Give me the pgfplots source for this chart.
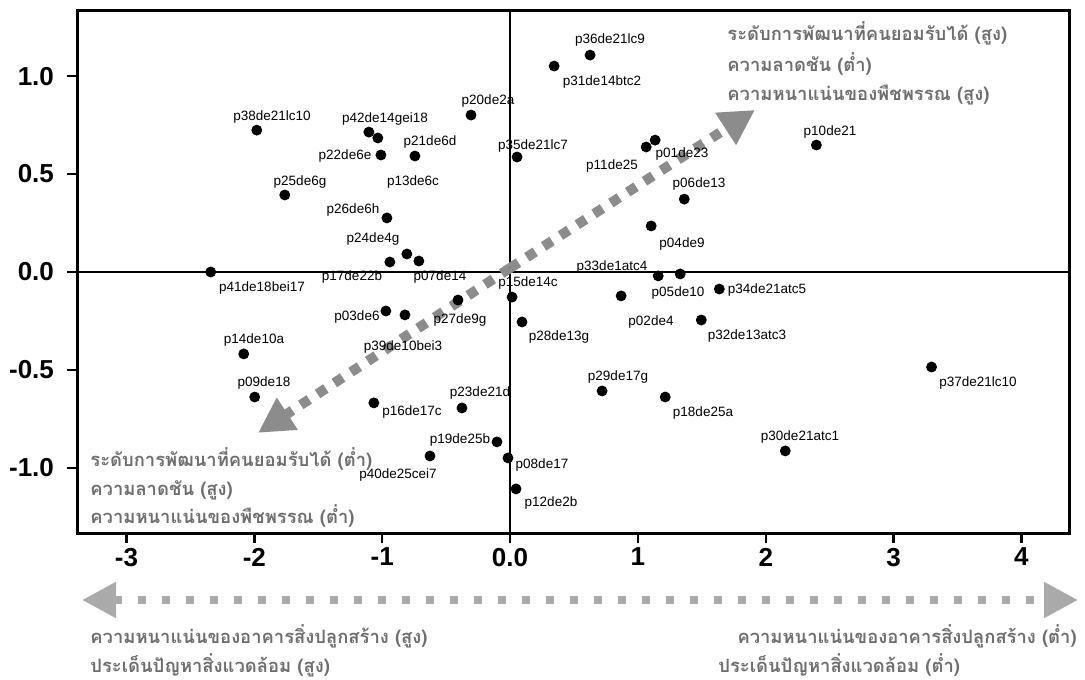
\documentclass[border=0pt]{standalone}
\usepackage{fontspec}
\setmainfont{Liberation Sans}
\newfontfamily\thaifont[Script=Thai]{Loma}
\usepackage{pgfplots}
\pgfplotsset{compat=1.18}
\usetikzlibrary{arrows.meta}
\definecolor{arrgray}{RGB}{140,140,140}
\definecolor{botgray}{RGB}{170,170,170}
\definecolor{thaigray}{RGB}{110,110,110}
\begin{document}
\begin{tikzpicture}
\begin{axis}[
  at={(0,0)}, anchor=south west,
  scale only axis, width=496pt, height=261pt,
  xmin=-3.387, xmax=4.372, ymin=-1.332, ymax=1.332,
  axis line style={line width=1.5pt},
  xtick={-3,-2,-1,0,1,2,3,4},
  xticklabels={-3,-2,-1,0.0,1,2,3,4},
  ytick={-1,-0.5,0,0.5,1},
  yticklabels={-1.0,-0.5,0.0,0.5,1.0},
  tick align=outside, tick pos=left,
  major tick length=5pt,
  every tick/.style={line width=1.2pt, black},
  ticklabel style={font=\fontsize{13}{13}\selectfont\bfseries},
  xticklabel style={yshift=1pt},
  yticklabel style={xshift=-3pt},
  clip=false,
]
\draw[line width=1.25pt] (axis cs:-3.387,0) -- (axis cs:4.372,0);
\draw[line width=1.25pt] (axis cs:0,-1.332) -- (axis cs:0,1.332);
\draw[arrgray, line width=5pt, dash pattern=on 5pt off 5pt, -{Triangle[length=17.5pt,width=18pt]}] (axis cs:0,0.02) -- (axis cs:1.916,0.827);
\draw[arrgray, line width=5pt, dash pattern=on 5pt off 5pt, -{Triangle[length=17.5pt,width=18pt]}] (axis cs:0,0.02) -- (axis cs:-1.971,-0.821);
\addplot[only marks, mark=*, mark size=2.5pt, black] table {
x y
-2.341 0.000
-2.083 -0.418
-1.997 -0.638
-1.981 0.724
-1.762 0.393
-1.104 0.714
-1.034 0.684
-1.010 0.597
-0.744 0.592
-0.963 0.276
-0.940 0.051
-0.807 0.092
-0.713 0.056
-0.305 0.801
0.626 1.107
0.345 1.051
0.055 0.587
1.065 0.638
1.135 0.673
1.363 0.372
1.104 0.235
2.396 0.648
1.159 -0.020
1.331 -0.010
1.637 -0.087
0.869 -0.122
1.496 -0.245
3.297 -0.485
0.720 -0.607
1.214 -0.638
2.153 -0.913
0.016 -0.128
0.094 -0.255
-0.016 -0.949
0.047 -1.107
-0.102 -0.867
-0.626 -0.939
-0.376 -0.694
-1.065 -0.668
-0.407 -0.143
-0.971 -0.199
-0.822 -0.219
};
\end{axis}
\begin{scope}[x=0.5pt, y=-0.5pt, shift={(-38.5pt,266.5pt)},
  lbl/.style={font=\fontsize{6.75}{6.75}\selectfont, inner sep=0pt},
  th/.style={font=\thaifont\bfseries\fontsize{9.2}{9.2}\selectfont, text=thaigray, inner sep=0pt}]
\node[lbl] at (272,117) {p38de21lc10};
\node[lbl] at (385,119) {p42de14gei18};
\node[lbl] at (345,156) {p22de6e};
\node[lbl] at (430,142) {p21de6d};
\node[lbl] at (300,182) {p25de6g};
\node[lbl] at (413,182) {p13de6c};
\node[lbl] at (353,210) {p26de6h};
\node[lbl] at (373,239) {p24de4g};
\node[lbl] at (488,101) {p20de2a};
\node[lbl] at (262,288) {p41de18bei17};
\node[lbl] at (352,277) {p17de22b};
\node[lbl] at (440,277) {p07de14};
\node[lbl] at (357,317) {p03de6};
\node[lbl] at (460,320) {p27de9g};
\node[lbl] at (403,347) {p39de10bei3};
\node[lbl] at (254,340) {p14de10a};
\node[lbl] at (264,383) {p09de18};
\node[lbl] at (412,412) {p16de17c};
\node[lbl] at (480,393) {p23de21d};
\node[lbl] at (460,440) {p19de25b};
\node[lbl] at (398,475) {p40de25cei7};
\node[lbl] at (528,283) {p15de14c};
\node[lbl] at (612,267) {p33de1atc4};
\node[lbl] at (678,293) {p05de10};
\node[lbl] at (767,290) {p34de21atc5};
\node[lbl] at (651,322) {p02de4};
\node[lbl] at (559,337) {p28de13g};
\node[lbl] at (747,336) {p32de13atc3};
\node[lbl] at (978,383) {p37de21lc10};
\node[lbl] at (618,377) {p29de17g};
\node[lbl] at (703,413) {p18de25a};
\node[lbl] at (800,437) {p30de21atc1};
\node[lbl] at (542,465) {p08de17};
\node[lbl] at (551,503) {p12de2b};
\node[lbl] at (610,40) {p36de21lc9};
\node[lbl] at (602,82) {p31de14btc2};
\node[lbl] at (533,146) {p35de21lc7};
\node[lbl] at (612,166) {p11de25};
\node[lbl] at (682,154) {p01de23};
\node[lbl] at (699,184) {p06de13};
\node[lbl] at (682,244) {p04de9};
\node[lbl] at (830,132) {p10de21};
\node[th, anchor=west] at (727,33) {ระดับการพัฒนาที่คนยอมรับได้ (สูง)};
\node[th, anchor=west] at (727,64) {ความลาดชัน (ต่ำ)};
\node[th, anchor=west] at (727,95) {ความหนาแน่นของพืชพรรณ (สูง)};
\node[th, anchor=west] at (90,459) {ระดับการพัฒนาที่คนยอมรับได้ (ต่ำ)};
\node[th, anchor=west] at (90,490) {ความลาดชัน (สูง)};
\node[th, anchor=west] at (90,516) {ความหนาแน่นของพืชพรรณ (ต่ำ)};
\node[th, anchor=west] at (90,636) {ความหนาแน่นของอาคารสิ่งปลูกสร้าง (สูง)};
\node[th, anchor=west] at (90,665) {ประเด็นปัญหาสิ่งแวดล้อม (สูง)};
\node[th, anchor=east] at (1077,636) {ความหนาแน่นของอาคารสิ่งปลูกสร้าง (ต่ำ)};
\node[th, anchor=west] at (718,665) {ประเด็นปัญหาสิ่งแวดล้อม (ต่ำ)};
\draw[botgray, line width=4pt, dash pattern=on 4pt off 8pt, {Triangle[length=17pt,width=17pt]}-{Triangle[length=17pt,width=17pt]}] (82,600) -- (1078,600);
\pgfresetboundingbox
\useasboundingbox (0,0) rectangle (1085,679);
\end{scope}
\end{tikzpicture}
\end{document}
